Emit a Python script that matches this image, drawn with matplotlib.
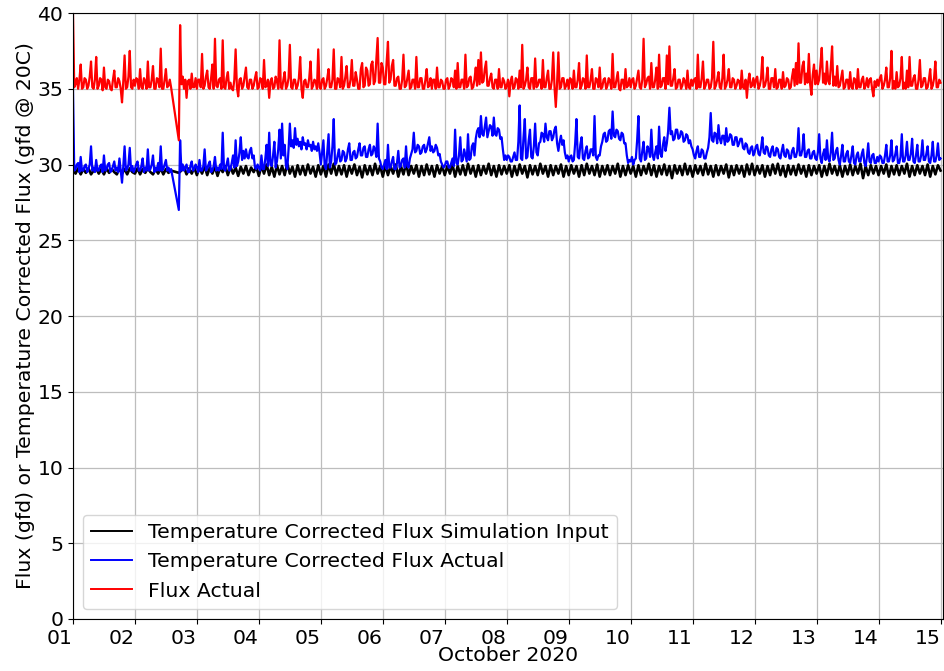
import numpy as np
import pandas as pd
import matplotlib
matplotlib.use('Agg')
import matplotlib.pyplot as plt
import matplotlib.dates as mdates

# Simulation input: hourly, one row per day (Oct 1 - Oct 14) plus Oct 15 00:00.
# None marks logger dropouts; the line is drawn straight across them.
sim_input = [
    29.7, 29.4, 29.75, 29.35, 29.7, 29.45, 29.75, 29.35, 29.6, 29.75, 29.4, 29.7, 29.35, 29.75, 29.45, 29.7, 29.5, 29.35, 29.75, 29.4, 29.7, 29.35, 29.75, 29.5,
    29.4, 29.75, 29.35, 29.7, 29.45, 29.75, 29.5, 29.35, 29.7, 29.4, 29.75, 29.35, 29.7, 29.45, 29.6, None, None, 29.45, 29.6, 29.8, 29.35, 29.75, 29.4, 29.8,
    29.3, 29.8, 29.4, 29.9, 29.3, 29.8, 29.4, 29.85, 29.25, 29.8, 29.5, 29.9, 29.3, 29.85, 29.4, 29.8, 29.25, 29.85, 29.4, 29.9, 29.3, 29.8, 29.5, 29.85,
    29.25, 29.9, 29.4, 30.0, 29.3, 29.85, 29.2, 29.95, 29.35, 29.9, 29.3, 30.05, 29.4, 29.85, 29.2, 29.95, 29.35, 29.9, 29.3, 30.0, 29.4, 29.85, 29.2, 29.95,
    29.35, 29.9, 29.2, 30.0, 29.4, 30.05, 29.3, 29.9, 29.35, 29.95, 29.2, 29.9, 29.4, 30.0, 29.3, 29.85, 29.15, 29.95, 29.35, 29.9, 29.3, 30.05, 29.4, 29.9,
    29.2, 29.95, 29.3, 29.9, 29.4, 30.0, 29.2, 29.9, 29.35, 30.05, 29.3, 29.9, 29.4, 29.95, 29.2, 29.9, 29.3, 30.0, 29.35, 29.9, 29.2, 29.95, 29.4, 29.9,
    29.3, 29.9, 29.4, 30.0, 29.2, 29.9, 29.35, 29.95, 29.3, 30.05, 29.4, 29.9, 29.2, 29.95, 29.3, 29.9, 29.4, 30.05, 29.3, 29.9, 29.2, 29.95, 29.35, 29.9,
    29.4, 29.95, 29.2, 29.9, 29.3, 30.0, 29.4, 29.9, 29.15, 29.95, 29.35, 29.9, 29.3, 30.05, 29.4, 29.9, 29.2, 29.95, 29.3, 29.9, 29.4, 30.0, 29.2, 29.9,
    29.3, 29.95, 29.4, 29.9, 29.2, 29.95, 29.3, 30.05, 29.4, 29.9, 29.3, 30.0, 29.2, 29.9, 29.35, 29.95, 29.3, 29.9, 29.4, 30.05, 29.2, 29.9, 29.3, 29.95,
    29.4, 29.9, 29.2, 29.95, 29.3, 29.9, 29.4, 30.05, 29.3, 29.95, 29.2, 29.9, 29.35, 30.0, 29.3, 29.9, 29.1, 29.95, 29.4, 29.9, 29.3, 30.05, 29.35, 29.9,
    29.2, 29.95, 29.4, 29.9, 29.3, 30.05, 29.35, 29.9, 29.2, 29.95, 29.3, 29.9, 29.4, 30.0, 29.15, 29.9, 29.3, 29.95, 29.4, 29.9, 29.2, 30.0, 29.35, 30.05,
    29.3, 29.9, 29.4, 29.95, 29.2, 29.9, 29.3, 30.0, 29.4, 30.05, 29.3, 29.9, 29.2, 29.95, 29.35, 29.9, 29.3, 30.0, 29.4, 29.9, 29.2, 29.95, 29.3, 29.9,
    29.4, 29.95, 29.2, 29.9, 29.3, 30.05, 29.4, 29.9, 29.3, 29.95, 29.2, 29.9, 29.35, 30.0, 29.3, 29.9, 29.4, 30.05, 29.1, 29.9, 29.3, 29.95, 29.4, 29.9,
    29.3, 29.9, 29.4, 30.0, 29.2, 29.9, 29.35, 29.95, 29.3, 29.9, 29.4, 30.05, 29.2, 29.9, 29.3, 29.95, 29.4, 29.9, 29.3, 30.0, 29.2, 29.9, 29.35, 29.95,
    29.6,
]

# Measured series: every 30 min, two lines per day
tc_flux_actual = [
    35.0, 29.6, 29.7, 30.0, 30.1, 29.5, 30.5, 29.6, 29.6, 29.9, 30.0, 29.5, 29.7, 30.0, 31.2, 29.6, 29.8, 29.5, 30.3, 29.6, 29.6, 29.9, 30.0, 29.5,
    30.6, 29.6, 29.7, 30.0, 30.1, 29.5, 29.6, 29.9, 30.2, 29.6, 29.8, 29.5, 30.4, 29.6, 28.8, 29.9, 31.2, 29.6, 29.7, 30.0, 31.1, 29.6, 29.9, 29.5,
    29.7, 30.0, 30.2, 29.6, 29.6, 29.9, 30.4, 29.5, 29.8, 29.6, 31.0, 29.6, 29.7, 30.0, 30.6, 29.5, 29.8, 29.6, 30.1, 29.6, 31.2, 29.6, 29.7, 30.0,
    30.3, 29.6, 29.8, 29.5, 29.7, None, None, None, None, None, 27.0, 31.6, 29.6, 30.0, 29.6, 29.8, 30.0, 29.5, 29.5, 29.9, 30.2, 29.6, 29.7, 30.0,
    29.8, 29.5, 30.3, 29.6, 29.6, 29.9, 31.0, 29.6, 29.7, 30.0, 30.2, 29.5, 29.6, 29.9, 30.5, 29.6, 29.8, 29.6, 30.0, 29.7, 32.1, 29.7, 29.6, 30.0,
    30.4, 29.6, 29.7, 30.1, 30.6, 29.8, 31.6, 29.9, 30.2, 30.8, 31.8, 30.3, 30.9, 30.4, 31.0, 30.5, 30.4, 30.9, 31.1, 30.4, 30.6, 29.8, 29.7, 30.0,
    29.8, 29.6, 30.6, 29.7, 29.7, 30.4, 31.3, 29.9, 32.1, 30.0, 29.9, 30.6, 31.5, 29.8, 30.2, 31.0, 32.3, 30.4, 32.7, 30.6, 31.3, 29.9, 29.7, 31.0,
    32.7, 31.2, 31.6, 31.1, 32.4, 31.3, 31.7, 31.2, 31.5, 31.0, 31.8, 31.3, 31.4, 31.0, 31.6, 31.2, 31.3, 30.9, 31.5, 31.0, 31.2, 30.9, 31.4, 30.8,
    30.0, 30.8, 31.6, 29.9, 29.7, 30.9, 32.0, 29.8, 30.2, 31.2, 33.0, 30.0, 30.1, 30.6, 31.0, 30.2, 30.3, 30.9, 30.8, 30.2, 30.4, 31.0, 31.4, 30.3,
    30.3, 30.8, 30.9, 30.4, 30.5, 31.0, 31.4, 30.6, 30.6, 31.1, 31.2, 30.5, 30.5, 31.0, 31.3, 30.6, 30.7, 31.2, 31.0, 30.5, 32.7, 30.4, 30.2, 29.8,
    29.7, 30.0, 30.3, 29.7, 31.3, 29.8, 29.8, 30.2, 30.5, 29.7, 29.7, 30.1, 30.9, 29.8, 29.9, 30.3, 30.4, 29.8, 31.2, 29.9, 29.8, 30.4, 30.7, 31.0,
    32.1, 30.8, 30.9, 31.3, 31.2, 30.7, 30.8, 31.2, 31.3, 30.8, 31.0, 31.4, 31.8, 30.9, 31.2, 30.8, 30.9, 31.3, 31.1, 30.6, 30.7, 30.2, 30.0, 29.8,
    29.9, 30.2, 30.2, 29.8, 29.8, 30.1, 30.4, 29.9, 32.3, 30.1, 30.0, 30.6, 31.8, 30.2, 30.3, 31.0, 30.6, 30.2, 32.0, 30.3, 30.4, 31.2, 31.4, 30.6,
    31.7, 32.2, 32.4, 31.8, 33.2, 32.0, 31.9, 32.5, 33.1, 31.8, 32.2, 32.6, 32.5, 31.9, 33.1, 32.0, 31.9, 32.4, 32.3, 31.7, 31.8, 31.0, 30.3, 30.6,
    30.3, 30.6, 30.5, 30.2, 30.2, 30.5, 30.8, 30.3, 30.3, 31.5, 33.9, 30.4, 30.3, 31.8, 33.0, 30.4, 30.5, 31.6, 32.3, 30.5, 30.4, 31.2, 32.7, 30.8,
    30.6, 31.4, 31.5, 32.1, 32.0, 31.5, 32.7, 31.8, 31.6, 32.2, 32.2, 31.6, 31.8, 32.3, 32.5, 31.4, 30.9, 31.5, 31.9, 31.3, 31.6, 30.8, 30.4, 30.6,
    30.2, 30.5, 30.6, 30.2, 30.3, 31.4, 33.0, 30.5, 30.4, 31.3, 31.8, 30.4, 30.3, 30.9, 31.2, 30.4, 30.5, 31.0, 31.0, 30.6, 33.2, 30.5, 30.3, 30.6,
    30.6, 31.2, 31.5, 32.0, 32.1, 31.5, 31.6, 32.2, 32.3, 31.7, 33.5, 31.9, 31.8, 32.3, 32.2, 31.7, 31.6, 32.1, 32.0, 31.4, 31.4, 30.6, 30.1, 30.3,
    30.2, 30.5, 30.0, 30.3, 30.4, 31.6, 33.2, 30.4, 30.2, 30.9, 31.5, 30.3, 30.4, 31.2, 31.0, 30.5, 32.3, 30.6, 30.3, 30.8, 31.2, 30.4, 32.5, 30.7,
    30.5, 31.3, 31.8, 30.9, 31.4, 32.2, 33.75, 32.0, 32.2, 31.6, 31.7, 32.3, 32.3, 31.7, 31.8, 32.2, 32.1, 31.5, 31.6, 32.0, 31.9, 31.4, 31.6, 31.2,
    31.0, 30.6, 30.4, 30.9, 31.2, 30.5, 30.5, 31.0, 30.9, 30.4, 30.4, 30.8, 31.1, 31.8, 33.4, 31.6, 31.5, 32.1, 32.0, 31.4, 32.6, 31.7, 31.4, 31.9,
    31.9, 31.3, 32.4, 31.5, 31.6, 32.0, 31.9, 31.3, 31.3, 31.8, 31.8, 31.2, 31.4, 31.7, 31.7, 31.1, 31.0, 31.4, 31.3, 30.8, 30.7, 31.1, 31.2, 30.6,
    30.8, 31.2, 31.3, 30.7, 30.6, 31.1, 31.8, 30.8, 30.7, 31.2, 31.1, 30.6, 30.5, 31.0, 31.2, 30.6, 30.6, 31.1, 31.0, 30.5, 30.4, 30.9, 31.3, 30.6,
    30.5, 31.0, 30.9, 30.4, 30.4, 30.9, 31.1, 30.5, 30.5, 30.9, 32.4, 30.6, 30.6, 31.0, 32.0, 30.5, 30.5, 30.9, 31.0, 30.4, 30.4, 30.8, 30.9, 30.4,
    30.3, 30.8, 32.0, 30.4, 30.1, 30.7, 31.0, 30.3, 31.6, 30.4, 30.2, 30.8, 32.1, 30.3, 30.4, 30.9, 31.1, 30.3, 30.0, 30.6, 31.3, 30.2, 30.2, 30.7,
    30.9, 30.2, 30.1, 30.6, 31.2, 30.1, 30.0, 30.6, 30.8, 30.2, 30.2, 30.7, 31.0, 30.1, 29.9, 30.5, 31.4, 30.2, 30.1, 30.6, 30.7, 30.1, 30.1, 30.5,
    30.2, 30.6, 30.5, 30.1, 30.1, 30.6, 31.3, 30.2, 30.2, 30.6, 31.6, 30.2, 30.3, 30.7, 31.2, 30.1, 30.1, 30.5, 32.0, 30.2, 30.2, 30.6, 31.5, 30.3,
    30.3, 30.7, 31.7, 30.2, 30.1, 30.6, 31.3, 30.2, 30.2, 30.6, 31.6, 30.3, 30.3, 30.7, 31.2, 30.2, 30.1, 30.6, 31.5, 30.2, 30.2, 30.6, 31.4, 30.3,
    30.4,
]

flux_actual = [
    40.0, 35.1, 35.3, 35.7, 35.0, 35.6, 36.6, 35.0, 35.1, 35.7, 35.6, 35.0, 35.2, 35.8, 36.8, 35.1, 35.0, 35.6, 37.1, 35.0, 35.2, 35.7, 35.6, 34.9,
    36.4, 35.1, 35.0, 35.6, 35.5, 35.0, 34.9, 35.6, 36.2, 35.1, 35.1, 35.7, 35.5, 35.0, 34.1, 35.5, 37.2, 35.0, 35.1, 35.8, 37.5, 35.1, 35.0, 35.6,
    35.2, 35.7, 35.6, 35.0, 36.3, 35.1, 35.0, 35.7, 35.5, 35.0, 36.8, 35.1, 35.1, 35.6, 36.5, 35.0, 35.0, 35.7, 35.6, 35.1, 37.65, 35.0, 35.0, 35.6,
    36.3, 35.1, 35.2, 35.6, 35.1, None, None, None, None, None, 31.6, 39.2, 35.3, 35.8, 35.0, 35.6, 34.4, 35.5, 35.6, 35.0, 36.0, 35.1, 35.1, 35.7,
    35.0, 35.6, 35.6, 35.1, 37.3, 35.0, 35.2, 35.8, 36.2, 35.1, 35.0, 35.7, 36.6, 35.0, 38.3, 35.2, 35.1, 35.6, 35.7, 35.0, 38.2, 35.1, 35.0, 35.7,
    36.1, 35.0, 35.4, 35.0, 34.9, 35.6, 37.6, 35.1, 34.5, 35.6, 35.7, 35.0, 35.2, 35.8, 36.4, 35.1, 35.0, 35.6, 35.6, 35.0, 35.2, 35.7, 36.1, 35.0,
    35.1, 35.7, 35.6, 35.0, 36.9, 35.1, 35.2, 35.6, 34.4, 35.5, 35.7, 35.0, 35.1, 35.8, 35.5, 35.0, 38.2, 35.1, 35.0, 35.6, 36.1, 35.0, 35.2, 35.7,
    37.9, 35.1, 35.0, 35.6, 35.6, 35.0, 35.2, 35.7, 37.1, 35.0, 34.4, 35.5, 35.6, 35.1, 35.1, 35.7, 36.8, 35.0, 35.2, 35.6, 35.5, 35.0, 37.6, 35.1,
    35.0, 35.6, 35.7, 35.0, 35.2, 35.7, 36.3, 35.1, 35.1, 35.6, 37.6, 35.0, 35.0, 35.7, 35.6, 35.1, 37.1, 35.0, 35.2, 35.8, 36.5, 35.1, 35.1, 35.6,
    36.9, 35.2, 35.2, 36.1, 35.6, 35.0, 35.0, 36.3, 36.7, 35.1, 35.2, 36.4, 36.2, 35.2, 35.3, 36.6, 36.8, 35.3, 35.5, 36.9, 38.35, 35.4, 35.4, 36.7,
    36.4, 35.3, 35.3, 36.8, 38.1, 35.4, 35.6, 36.5, 36.9, 35.2, 35.2, 35.7, 35.8, 35.0, 35.0, 35.6, 37.25, 35.1, 35.2, 35.7, 36.2, 35.0, 35.1, 35.6,
    35.6, 35.0, 37.1, 35.1, 35.1, 35.7, 35.7, 35.0, 35.0, 35.6, 36.3, 35.1, 35.2, 35.7, 35.0, 35.6, 35.6, 35.0, 36.4, 35.1, 35.1, 35.6, 35.5, 35.0,
    35.0, 35.6, 35.7, 35.0, 35.2, 35.7, 35.6, 35.1, 36.2, 35.0, 36.7, 35.1, 35.1, 35.6, 35.6, 35.0, 37.25, 35.1, 35.2, 35.7, 35.8, 35.0, 35.1, 35.6,
    36.4, 35.2, 36.9, 35.3, 37.4, 35.4, 35.5, 36.3, 36.8, 35.2, 35.2, 35.7, 36.0, 35.1, 35.0, 35.6, 35.6, 35.0, 36.3, 35.1, 35.1, 35.7, 35.5, 35.0,
    35.2, 35.6, 34.5, 35.5, 35.8, 35.0, 35.1, 35.7, 35.6, 35.0, 36.2, 35.1, 37.9, 35.0, 35.2, 35.6, 36.4, 35.1, 35.0, 35.7, 35.7, 35.0, 37.0, 35.1,
    35.2, 35.6, 35.6, 35.0, 36.9, 35.1, 35.1, 35.7, 36.2, 35.0, 35.0, 35.6, 37.4, 35.1, 33.8, 35.4, 37.4, 35.0, 35.1, 35.7, 35.7, 35.0, 35.2, 35.6,
    35.0, 35.7, 35.6, 35.0, 36.2, 35.1, 35.1, 35.6, 36.7, 35.0, 35.2, 35.7, 35.6, 35.0, 37.2, 35.1, 35.1, 35.6, 36.3, 35.0, 35.0, 35.7, 35.6, 35.1,
    36.4, 35.0, 35.1, 35.6, 35.7, 35.0, 35.2, 35.7, 35.5, 35.0, 37.3, 35.1, 35.1, 35.6, 36.1, 35.0, 34.9, 35.6, 35.6, 35.0, 36.3, 35.1, 35.2, 35.7,
    35.1, 35.6, 35.7, 35.0, 35.2, 35.7, 36.2, 35.1, 35.0, 35.6, 38.3, 35.1, 35.3, 35.7, 35.8, 35.0, 36.7, 35.1, 35.1, 35.6, 36.4, 35.0, 37.25, 35.1,
    35.2, 35.7, 35.7, 35.0, 37.2, 35.3, 37.8, 35.2, 35.2, 35.7, 36.3, 35.0, 35.1, 35.6, 35.6, 35.0, 35.2, 35.7, 35.5, 35.0, 36.2, 35.1, 35.0, 35.6,
    35.2, 35.6, 35.7, 35.0, 37.25, 35.1, 35.1, 35.7, 36.8, 35.0, 35.2, 35.6, 35.6, 35.0, 35.1, 35.7, 38.1, 35.0, 35.2, 35.6, 36.1, 35.1, 35.0, 35.7,
    37.25, 35.0, 35.2, 35.6, 36.3, 35.1, 35.1, 35.7, 35.6, 35.0, 35.2, 35.6, 35.5, 35.0, 36.2, 35.1, 35.0, 35.6, 34.4, 35.5, 36.0, 35.1, 35.2, 35.7,
    35.1, 35.6, 35.8, 35.0, 35.2, 35.7, 37.1, 35.1, 35.2, 35.6, 36.4, 35.0, 35.0, 35.7, 35.7, 35.1, 36.3, 35.0, 35.1, 35.6, 35.6, 35.0, 36.1, 35.1,
    35.2, 35.7, 35.6, 35.0, 35.1, 35.8, 36.3, 35.2, 36.7, 35.3, 38.0, 35.4, 35.4, 36.5, 36.8, 35.3, 36.0, 35.4, 37.3, 35.3, 34.6, 35.9, 36.6, 35.3,
    36.2, 35.3, 35.6, 36.6, 37.7, 35.4, 36.0, 35.3, 36.8, 35.5, 35.3, 36.4, 37.8, 35.2, 35.8, 35.2, 36.5, 35.1, 35.2, 35.7, 36.2, 35.0, 35.1, 35.6,
    35.6, 35.0, 36.1, 35.1, 35.0, 35.7, 35.6, 35.0, 36.3, 35.1, 35.1, 35.6, 35.8, 35.0, 35.2, 35.7, 35.1, 35.6, 35.7, 35.0, 34.5, 35.5, 35.1, 35.6,
    35.2, 35.7, 35.9, 35.0, 35.2, 35.6, 36.4, 35.1, 35.1, 35.7, 37.5, 35.0, 35.5, 35.0, 36.1, 35.1, 35.2, 35.7, 37.1, 35.0, 35.4, 35.0, 36.2, 35.1,
    37.1, 35.2, 35.2, 35.7, 35.9, 35.0, 35.0, 35.6, 36.9, 35.1, 35.2, 35.7, 35.7, 35.0, 35.1, 35.6, 36.3, 35.0, 35.2, 35.7, 36.8, 35.1, 35.1, 35.6,
    35.4,
]

assert len(sim_input) == 14 * 24 + 1
assert len(tc_flux_actual) == len(flux_actual) == 14 * 48 + 1

hourly = pd.date_range('2020-10-01', periods=len(sim_input), freq='h')
half_hourly = pd.date_range('2020-10-01', periods=len(flux_actual), freq='30min')
sim = pd.Series(np.array(sim_input, dtype=float), index=hourly).dropna()
tc = pd.Series(np.array(tc_flux_actual, dtype=float), index=half_hourly).dropna()
flux = pd.Series(np.array(flux_actual, dtype=float), index=half_hourly).dropna()

plt.rcParams['font.size'] = 14.7

fig = plt.figure(figsize=(9.45, 6.71), dpi=100)
ax = fig.add_axes([0.0772, 0.0775, 0.9208, 0.9031])

ax.plot(sim.index, sim.values, color='k', lw=1.9, label='Temperature Corrected Flux Simulation Input')
ax.plot(tc.index, tc.values, color='b', lw=1.6, label='Temperature Corrected Flux Actual')
ax.plot(flux.index, flux.values, color='r', lw=1.6, label='Flux Actual')

ax.set_ylim(0, 40)
ax.set_yticks(range(0, 41, 5))
ax.set_xlim(pd.Timestamp('2020-10-01'), pd.Timestamp('2020-10-15 01:00'))
ax.xaxis.set_major_locator(mdates.DayLocator())
ax.xaxis.set_major_formatter(mdates.DateFormatter('%d'))
plt.setp(ax.get_xticklabels(), ha='right')

ax.set_xlabel('October 2020', labelpad=-1)
ax.set_ylabel('Flux (gfd) or Temperature Corrected Flux (gfd @ 20C)', labelpad=2)
ax.grid(True, color='#bdbdbd', lw=0.9)
leg = ax.legend(loc='lower left')
for handle in leg.legend_handles:
    handle.set_linewidth(1.4)

fig.savefig('out.png', dpi=100)
